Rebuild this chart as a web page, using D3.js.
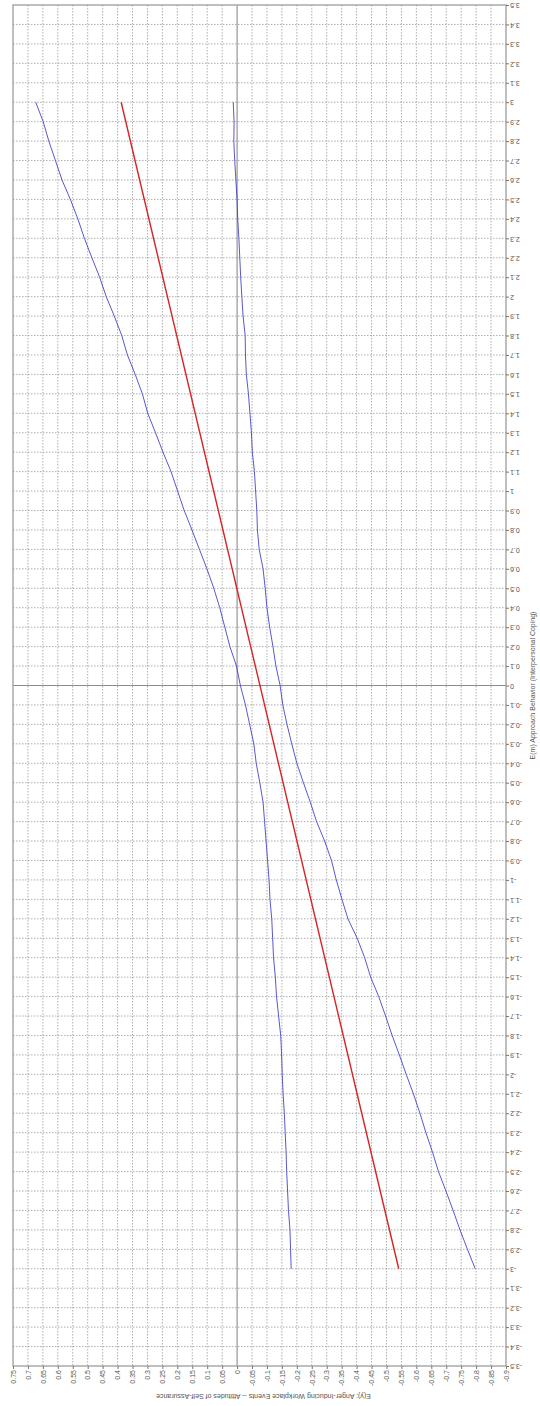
<!DOCTYPE html>
<html>
<head>
<meta charset="utf-8">
<script src="https://cdn.jsdelivr.net/npm/d3@7"></script>
<style>
  body { margin: 0; background: #fff; }
  svg { display: block; }
  text { font-family: "Liberation Sans", Arial, sans-serif; fill: #555; }
</style>
</head>
<body>
<div id="chart"></div>
<script>
// E(m) values, -3 .. 3 step 0.1 (plotted vertically)
const mValues = [-3.0,-2.9,-2.8,-2.7,-2.6,-2.5,-2.4,-2.3,-2.2,-2.1,-2.0,-1.9,-1.8,-1.7,-1.6,-1.5,-1.4,-1.3,-1.2,-1.1,
  -1.0,-0.9,-0.8,-0.7,-0.6,-0.5,-0.4,-0.3,-0.2,-0.1,0.0,0.1,0.2,0.3,0.4,0.5,0.6,0.7,0.8,0.9,
  1.0,1.1,1.2,1.3,1.4,1.5,1.6,1.7,1.8,1.9,2.0,2.1,2.2,2.3,2.4,2.5,2.6,2.7,2.8,2.9,3.0];

// upper band (blue)
const upperBand = [-0.181,-0.179,-0.177,-0.172,-0.169,-0.166,-0.164,-0.161,-0.158,-0.154,-0.151,-0.149,-0.146,-0.139,-0.132,-0.128,-0.122,-0.119,-0.116,-0.110,
  -0.107,-0.102,-0.097,-0.092,-0.087,-0.076,-0.064,-0.056,-0.042,-0.028,-0.011,0.002,0.024,0.041,0.058,0.078,0.101,0.126,0.151,0.177,
  0.199,0.221,0.248,0.273,0.299,0.317,0.341,0.367,0.386,0.411,0.438,0.460,0.486,0.511,0.533,0.558,0.586,0.608,0.630,0.649,0.674];

// lower band (blue)
const lowerBand = [-0.797,-0.771,-0.746,-0.723,-0.699,-0.674,-0.654,-0.632,-0.612,-0.590,-0.566,-0.543,-0.519,-0.497,-0.474,-0.447,-0.427,-0.402,-0.371,-0.351,
  -0.332,-0.316,-0.293,-0.266,-0.245,-0.222,-0.200,-0.183,-0.167,-0.153,-0.144,-0.130,-0.120,-0.109,-0.100,-0.094,-0.087,-0.074,-0.068,-0.066,
  -0.062,-0.058,-0.051,-0.048,-0.043,-0.038,-0.031,-0.028,-0.027,-0.020,-0.016,-0.012,-0.009,-0.006,-0.002,0.000,0.004,0.008,0.011,0.010,0.013];

// fitted line (red), end points
const fitM = [-3, 3];
const fitY = [-0.541, 0.388];

const yTicks = [0.75,0.7,0.65,0.6,0.55,0.5,0.45,0.4,0.35,0.3,0.25,0.2,0.15,0.1,0.05,0,
  -0.05,-0.1,-0.15,-0.2,-0.25,-0.3,-0.35,-0.4,-0.45,-0.5,-0.55,-0.6,-0.65,-0.7,-0.75,-0.8,-0.85,-0.9];
const mTicks = [-3.5,-3.4,-3.3,-3.2,-3.1,-3,-2.9,-2.8,-2.7,-2.6,-2.5,-2.4,-2.3,-2.2,-2.1,-2,-1.9,-1.8,-1.7,-1.6,-1.5,-1.4,-1.3,-1.2,-1.1,
  -1,-0.9,-0.8,-0.7,-0.6,-0.5,-0.4,-0.3,-0.2,-0.1,0,0.1,0.2,0.3,0.4,0.5,0.6,0.7,0.8,0.9,1,
  1.1,1.2,1.3,1.4,1.5,1.6,1.7,1.8,1.9,2,2.1,2.2,2.3,2.4,2.5,2.6,2.7,2.8,2.9,3,3.1,3.2,3.3,3.4,3.5];

const yTitle = "E(y): Anger-Inducing Workplace Events -- Attitudes of Self-Assurance";
const mTitle = "E(m) Approach Behavior (Interpersonal Coping)";

const W = 540, H = 1406;
const pLeft = 13, pRight = 506, pTop = 5, pBottom = 1366;

const svg = d3.select("#chart").append("svg")
  .attr("width", W).attr("height", H);

const y = d3.scaleLinear().domain([0.75, -0.9]).range([pLeft, pRight]);
const m = d3.scaleLinear().domain([-3.5, 3.5]).range([pBottom, pTop]);

// grid
svg.append("g").selectAll("line")
  .data(yTicks.filter(d => d !== 0 && d !== 0.75 && d !== -0.9))
  .enter().append("line")
  .attr("x1", d => y(d)).attr("x2", d => y(d))
  .attr("y1", pTop).attr("y2", pBottom)
  .attr("stroke", "#9a9a9a").attr("stroke-width", 0.8)
  .attr("stroke-dasharray", "1.5,1.5");

svg.append("g").selectAll("line")
  .data(mTicks.filter(d => d !== 0 && Math.abs(d) !== 3.5))
  .enter().append("line")
  .attr("x1", pLeft).attr("x2", pRight)
  .attr("y1", d => m(d)).attr("y2", d => m(d))
  .attr("stroke", "#9a9a9a").attr("stroke-width", 0.8)
  .attr("stroke-dasharray", "1.5,1.5");

// zero lines
svg.append("line")
  .attr("x1", y(0)).attr("x2", y(0)).attr("y1", pTop).attr("y2", pBottom)
  .attr("stroke", "#8c8c8c").attr("stroke-width", 1.1);
svg.append("line")
  .attr("x1", pLeft).attr("x2", pRight).attr("y1", m(0)).attr("y2", m(0))
  .attr("stroke", "#8c8c8c").attr("stroke-width", 1.1);

// frame
svg.append("rect")
  .attr("x", pLeft).attr("y", pTop)
  .attr("width", pRight - pLeft).attr("height", pBottom - pTop)
  .attr("fill", "none").attr("stroke", "#a4a4a4").attr("stroke-width", 1.4);

// bottom axis (E(y))
const bottomAxis = svg.append("g")
  .attr("transform", `translate(0,${pBottom})`)
  .call(d3.axisBottom(y).tickValues(yTicks).tickSize(3).tickFormat(d => String(d)));
bottomAxis.select(".domain").remove();
bottomAxis.selectAll(".tick line").attr("stroke", "#777");
bottomAxis.selectAll(".tick text")
  .attr("transform", "rotate(-90)")
  .attr("x", -4).attr("y", 0).attr("dy", "0.32em")
  .attr("text-anchor", "end")
  .style("font-size", "7px").style("fill", "#555");

// right axis (E(m))
const rightAxis = svg.append("g")
  .attr("transform", `translate(${pRight},0)`)
  .call(d3.axisRight(m).tickValues(mTicks).tickSize(3).tickFormat(d => String(d)));
rightAxis.select(".domain").remove();
rightAxis.selectAll(".tick line").attr("stroke", "#777");
rightAxis.selectAll(".tick text")
  .attr("transform", "rotate(180)")
  .attr("x", -4).attr("y", 0).attr("dy", "0.32em")
  .attr("text-anchor", "end")
  .style("font-size", "7px").style("fill", "#555");

// axis titles
svg.append("text")
  .attr("transform", `translate(${(pLeft + pRight) / 2 + 4},${H - 10}) rotate(180)`)
  .attr("text-anchor", "middle").attr("dy", "0.32em")
  .style("font-size", "7px")
  .text(yTitle);

svg.append("text")
  .attr("transform", `translate(${W - 7},${m(0)}) rotate(-90)`)
  .attr("text-anchor", "middle").attr("dy", "0.32em")
  .style("font-size", "7px")
  .text(mTitle);

// series
const band = vals => d3.line()
  .x((d, i) => y(vals[i]))
  .y(d => m(d));

svg.append("path")
  .attr("d", band(upperBand)(mValues))
  .attr("fill", "none").attr("stroke", "#3b3bc6")
  .attr("stroke-width", 1).attr("stroke-opacity", 0.85);

svg.append("path")
  .attr("d", band(lowerBand)(mValues))
  .attr("fill", "none").attr("stroke", "#3b3bc6")
  .attr("stroke-width", 1).attr("stroke-opacity", 0.85);

svg.append("path")
  .attr("d", band(fitY)(fitM))
  .attr("fill", "none").attr("stroke", "#d42424")
  .attr("stroke-width", 1.4);
</script>
</body>
</html>
